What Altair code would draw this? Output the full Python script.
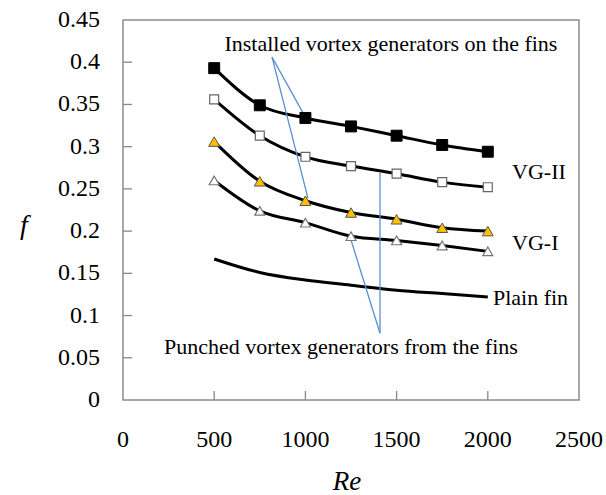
import altair as alt
import pandas as pd

# ---- data ----
re_values = [500, 750, 1000, 1250, 1500, 1750, 2000]
vg2_installed = [0.393, 0.349, 0.334, 0.324, 0.313, 0.302, 0.294]
vg2_punched = [0.356, 0.313, 0.288, 0.277, 0.268, 0.258, 0.252]
vg1_installed = [0.306, 0.259, 0.236, 0.222, 0.214, 0.204, 0.200]
vg1_punched = [0.260, 0.224, 0.210, 0.194, 0.189, 0.183, 0.176]
plain_fin = [0.167, 0.151, 0.142, 0.136, 0.130, 0.126, 0.122]

x_ticks = [0, 500, 1000, 1500, 2000, 2500]
x_tick_labels = ["0", "500", "1000", "1500", "2000", "2500"]
y_ticks = [0, 0.05, 0.1, 0.15, 0.2, 0.25, 0.3, 0.35, 0.4, 0.45]
y_tick_labels = ["0", "0.05", "0.1", "0.15", "0.2", "0.25", "0.3", "0.35", "0.4", "0.45"]
x_title = ["Re"]
y_title = ["f"]

# annotation texts and anchors (data coordinates)
label_texts = ["Installed vortex generators on the fins",
               "Punched vortex generators from the fins"]
label_x = [1469, 1195]
label_y = [0.421, 0.063]

side_texts = ["VG-II", "VG-I", "Plain fin"]
side_x = [2133, 2133, 2028]
side_y = [0.270, 0.186, 0.121]

# leader lines: start (x, y) -> end (x2, y2)
lead_x = [817, 817, 1409, 1409]
lead_y = [0.406, 0.406, 0.079, 0.079]
lead_x2 = [987, 1014, 1409, 1245]
lead_y2 = [0.340, 0.239, 0.269, 0.193]

W, H = 456, 380
FONT = "Liberation Serif"

xs = alt.Scale(domain=[0, 2500], nice=False)
ys = alt.Scale(domain=[0, 0.45], nice=False)

X = alt.X("Re:Q", scale=xs, axis=None)
Y = alt.Y("f:Q", scale=ys, axis=None)


def series_df(vals):
    return pd.DataFrame({"Re": re_values, "f": vals})


layers = []

# inward tick marks
ytick_df = pd.DataFrame({"f": y_ticks[1:-1]})
layers.append(alt.Chart(ytick_df).mark_rule(color="#888888", strokeWidth=1.3).encode(
    y=Y, x=alt.value(0), x2=alt.value(9)))
xtick_df = pd.DataFrame({"Re": x_ticks[1:-1]})
layers.append(alt.Chart(xtick_df).mark_rule(color="#888888", strokeWidth=1.3).encode(
    x=X, y=alt.value(H), y2=alt.value(H - 9)))

# tick labels
xl_df = pd.DataFrame({"Re": x_ticks, "t": x_tick_labels})
layers.append(alt.Chart(xl_df).mark_text(
    font=FONT, fontSize=24, color="black", align="center", baseline="middle").encode(
    x=X, y=alt.value(H + 40), text="t:N"))
yl_df = pd.DataFrame({"f": y_ticks, "t": y_tick_labels})
layers.append(alt.Chart(yl_df).mark_text(
    font=FONT, fontSize=24, color="black", align="right", baseline="middle").encode(
    y=Y, x=alt.value(-23), text="t:N"))

# axis titles
layers.append(alt.Chart(pd.DataFrame({"t": x_title})).mark_text(
    font=FONT, fontSize=27, fontStyle="italic", color="black",
    align="center", baseline="middle").encode(
    x=alt.value(224), y=alt.value(H + 82), text="t:N"))
layers.append(alt.Chart(pd.DataFrame({"t": y_title})).mark_text(
    font=FONT, fontSize=28, fontStyle="italic", color="black",
    align="center", baseline="middle").encode(
    x=alt.value(-99), y=alt.value(206), text="t:N"))

# curves
for vals in [vg2_installed, vg2_punched, vg1_installed, vg1_punched, plain_fin]:
    layers.append(alt.Chart(series_df(vals)).mark_line(
        color="black", strokeWidth=3, interpolate="monotone").encode(x=X, y=Y))

# leader lines
lead_df = pd.DataFrame({"Re": lead_x, "f": lead_y, "Re2": lead_x2, "f2": lead_y2})
layers.append(alt.Chart(lead_df).mark_rule(color="#5b8fd0", strokeWidth=1.3).encode(
    x=X, y=Y, x2="Re2:Q", y2="f2:Q"))

# markers
layers.append(alt.Chart(series_df(vg2_installed)).mark_point(
    shape="square", filled=True, fill="black", stroke="black", strokeWidth=1,
    size=120, opacity=1).encode(x=X, y=Y))
layers.append(alt.Chart(series_df(vg2_punched)).mark_point(
    shape="square", filled=True, fill="white", stroke="#666666", strokeWidth=1.2,
    size=80, opacity=1).encode(x=X, y=Y))
layers.append(alt.Chart(series_df(vg1_installed)).mark_point(
    shape="triangle-up", filled=True, fill="#FFC000", stroke="#555555", strokeWidth=1,
    size=120, opacity=1).encode(x=X, y=Y))
layers.append(alt.Chart(series_df(vg1_punched)).mark_point(
    shape="triangle-up", filled=True, fill="white", stroke="#777777", strokeWidth=1.2,
    size=100, opacity=1).encode(x=X, y=Y))

# annotation texts
lab_df = pd.DataFrame({"Re": label_x, "f": label_y, "t": label_texts})
layers.append(alt.Chart(lab_df).mark_text(
    font=FONT, fontSize=22, color="black", align="center", baseline="middle").encode(
    x=X, y=Y, text="t:N"))
side_df = pd.DataFrame({"Re": side_x, "f": side_y, "t": side_texts})
layers.append(alt.Chart(side_df).mark_text(
    font=FONT, fontSize=22, color="black", align="left", baseline="middle").encode(
    x=X, y=Y, text="t:N"))

chart = alt.layer(*layers).properties(
    width=W, height=H,
    autosize=alt.AutoSizeParams(type="none"),
    padding={"left": 123, "top": 20, "right": 27, "bottom": 95},
    background="white",
).configure_view(
    stroke="#8c8c8c", strokeWidth=1.5
)

chart.save("out.html", embed_options={"renderer": "svg", "actions": False})
